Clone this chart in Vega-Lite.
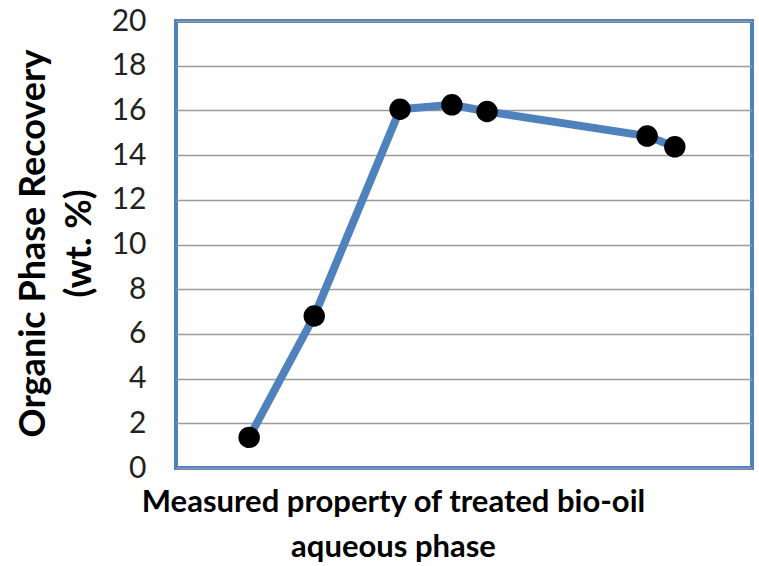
{
  "$schema": "https://vega.github.io/schema/vega-lite/v6.json",
  "autosize": "none",
  "width": 576,
  "height": 447,
  "padding": {"left": 176, "top": 21, "right": 7, "bottom": 98},
  "background": "white",
  "config": {
    "view": {"stroke": "#4F81BD", "strokeWidth": 4},
    "font": "Lato"
  },
  "data": {
    "values": [
      {"x": 12.7, "y": 1.37},
      {"x": 24.0, "y": 6.8},
      {"x": 38.9, "y": 16.05},
      {"x": 47.9, "y": 16.25},
      {"x": 54.0, "y": 15.95},
      {"x": 81.8, "y": 14.85},
      {"x": 86.6, "y": 14.37}
    ]
  },
  "encoding": {
    "x": {
      "field": "x",
      "type": "quantitative",
      "scale": {"domain": [0, 100]},
      "axis": {
        "labels": false,
        "ticks": false,
        "domain": false,
        "grid": false,
        "title": ["Measured property of treated bio-oil", "aqueous phase"],
        "titleFont": "Lato",
        "titleFontSize": 31,
        "titleFontWeight": "bold",
        "titleColor": "#000000",
        "titleLineHeight": 45,
        "titleX": 217,
        "titleY": 19,
        "titleAlign": "center",
        "titleBaseline": "top"
      }
    },
    "y": {
      "field": "y",
      "type": "quantitative",
      "scale": {"domain": [0, 20], "nice": false},
      "axis": {
        "values": [0, 2, 4, 6, 8, 10, 12, 14, 16, 18, 20],
        "ticks": false,
        "domain": false,
        "grid": true,
        "gridColor": "#9a9a9a",
        "gridWidth": 1.3,
        "labelFont": "Lato",
        "labelFontSize": 30,
        "labelColor": "#222222",
        "labelPadding": 30,
        "title": ["Organic Phase Recovery", "(wt. %)"],
        "titleFont": "Lato",
        "titleFontSize": 36,
        "titleFontWeight": "bold",
        "titleColor": "#000000",
        "titleLineHeight": 46,
        "titleAngle": -90,
        "titleX": -143,
        "titleY": 222,
        "titleAlign": "center",
        "titleBaseline": "middle"
      }
    }
  },
  "layer": [
    {"mark": {"type": "line", "color": "#4F81BD", "strokeWidth": 8}},
    {"mark": {"type": "point", "filled": true, "color": "#000000", "opacity": 1, "size": 460}}
  ]
}
